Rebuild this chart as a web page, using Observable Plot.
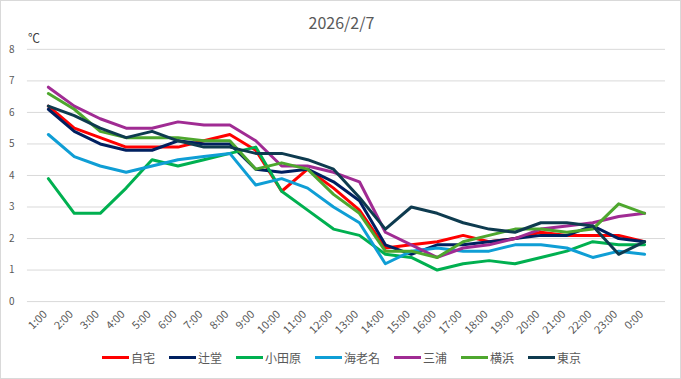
<!DOCTYPE html>
<html>
<head>
<meta charset="utf-8">
<script src="https://cdn.jsdelivr.net/npm/d3@7"></script>
<script src="https://cdn.jsdelivr.net/npm/@observablehq/plot@0.6"></script>
<style>
  html, body { margin: 0; padding: 0; background: #fff; }
  #chart { position: relative; width: 681px; height: 379px; box-sizing: border-box; border: 1px solid #d9d9d9; overflow: hidden; font-family: "Noto Sans CJK JP", "Noto Sans", sans-serif; }
  #chart svg { position: absolute; left: -1px; top: -1px; }
  #title { position: absolute; left: 0; width: 681px; top: 9px; text-align: center; font-size: 16px; color: #595959; }
  #unit { position: absolute; left: 27px; top: 28px; font-size: 12px; color: #404040; }
  #legend { position: absolute; left: 0; width: 681px; top: 348px; display: flex; justify-content: center; font-size: 12px; color: #595959; }
  .item { display: flex; align-items: center; margin: 0 7px; }
  .sw { width: 27px; height: 3px; margin-right: 2px; }
</style>
</head>
<body>
<div id="chart">
  <div id="title">2026/2/7</div>
  <div id="unit">℃</div>
  <div id="legend"></div>
</div>
<script>
const hours = ["1:00","2:00","3:00","4:00","5:00","6:00","7:00","8:00","9:00","10:00","11:00","12:00","13:00","14:00","15:00","16:00","17:00","18:00","19:00","20:00","21:00","22:00","23:00","0:00"];
const seriesNames = ["自宅","辻堂","小田原","海老名","三浦","横浜","東京"];
const seriesColors = ["#ff0000","#002060","#00b050","#0f9ed5","#a02b93","#4ea72e","#0e3b4f"];
const jitaku   = [6.2,5.5,5.2,4.9,4.9,4.9,5.1,5.3,4.8,3.5,4.2,3.6,2.9,1.7,1.8,1.9,2.1,1.9,2.0,2.2,2.1,2.1,2.1,1.9];
const tsujido  = [6.1,5.4,5.0,4.8,4.8,5.1,5.0,5.0,4.2,4.1,4.2,3.8,3.2,1.8,1.5,1.8,1.8,1.9,2.0,2.1,2.1,2.4,2.0,1.9];
const odawara  = [3.9,2.8,2.8,3.6,4.5,4.3,4.5,4.7,4.9,3.5,2.9,2.3,2.1,1.5,1.4,1.0,1.2,1.3,1.2,1.4,1.6,1.9,1.8,1.8];
const ebina    = [5.3,4.6,4.3,4.1,4.3,4.5,4.6,4.7,3.7,3.9,3.6,3.0,2.5,1.2,1.6,1.7,1.6,1.6,1.8,1.8,1.7,1.4,1.6,1.5];
const miura    = [6.8,6.2,5.8,5.5,5.5,5.7,5.6,5.6,5.1,4.3,4.3,4.1,3.8,2.2,1.8,1.4,1.7,1.8,2.0,2.3,2.4,2.5,2.7,2.8];
const yokohama = [6.6,6.1,5.4,5.2,5.2,5.2,5.1,5.1,4.2,4.4,4.2,3.4,2.8,1.6,1.6,1.4,1.9,2.1,2.3,2.3,2.2,2.3,3.1,2.8];
const tokyo    = [6.2,5.9,5.5,5.2,5.4,5.1,4.9,4.9,4.7,4.7,4.5,4.2,3.3,2.3,3.0,2.8,2.5,2.3,2.2,2.5,2.5,2.4,1.5,1.9];
const yTicks = [0,1,2,3,4,5,6,7,8];

const allSeries = [jitaku, tsujido, odawara, ebina, miura, yokohama, tokyo];
const rows = [];
allSeries.forEach((vals, si) => vals.forEach((v, i) => rows.push({hour: hours[i], value: v, name: seriesNames[si]})));

const plot = Plot.plot({
  width: 681,
  height: 379,
  marginTop: 49,
  marginBottom: 77,
  marginLeft: 27,
  marginRight: 14,
  style: { fontFamily: '"Noto Sans CJK JP", "Noto Sans", sans-serif', color: "#595959", background: "transparent" },
  x: { type: "point", domain: hours, padding: 0.5 },
  y: { domain: [0, 8] },
  color: { domain: seriesNames, range: seriesColors },
  marks: [
    Plot.gridY(yTicks, { stroke: "#d9d9d9", strokeOpacity: 1, strokeWidth: 1 }),
    Plot.axisY(yTicks, { tickSize: 0, tickPadding: 13, fontSize: 10, fill: "#595959", label: null }),
    Plot.axisX({ tickSize: 0, tickPadding: 11, dx: -3, tickRotate: -45, fontSize: 11, fill: "#595959", label: null }),
    Plot.lineY(rows, { x: "hour", y: "value", z: "name", stroke: "name", strokeWidth: 3, strokeLinejoin: "round", strokeLinecap: "round" })
  ]
});
const chart = document.getElementById("chart");
chart.insertBefore(plot, chart.firstChild);

const legend = document.getElementById("legend");
seriesNames.forEach((n, i) => {
  const it = document.createElement("div");
  it.className = "item";
  const sw = document.createElement("div");
  sw.className = "sw";
  sw.style.background = seriesColors[i];
  const lb = document.createElement("span");
  lb.textContent = n;
  it.appendChild(sw);
  it.appendChild(lb);
  legend.appendChild(it);
});
</script>
</body>
</html>
